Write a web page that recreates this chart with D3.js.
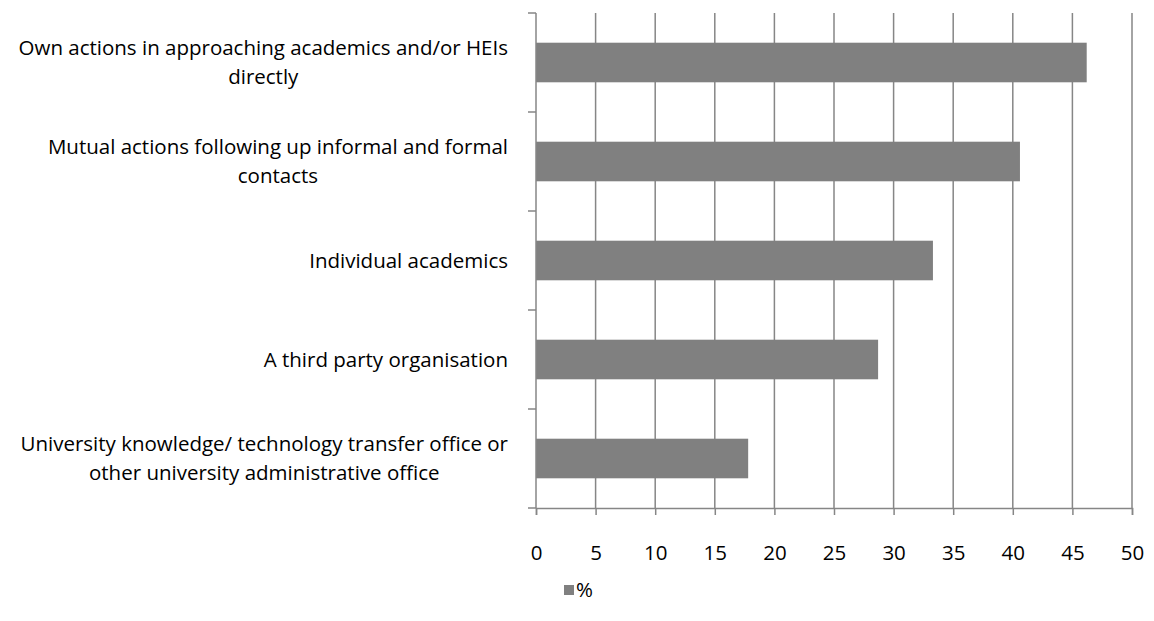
<!DOCTYPE html>
<html>
<head>
<meta charset="utf-8">
<script src="https://cdn.jsdelivr.net/npm/d3@7"></script>
<style>
  body { margin: 0; background: #fff; }
  svg { font-family: "Open Sans", sans-serif; }
</style>
</head>
<body>
<div class="container"></div>
<script>
// categories top to bottom, lines split where the chart wraps them
var categories = [
  "Own actions in approaching academics and/or HEIs\ndirectly",
  "Mutual actions following up informal and formal\ncontacts",
  "Individual academics",
  "A third party organisation",
  "University knowledge/ technology transfer office or\nother university administrative office"
];
var values = [46.2, 40.6, 33.3, 28.7, 17.8];
var xTicks = [0, 5, 10, 15, 20, 25, 30, 35, 40, 45, 50];
var seriesName = "%";

var width = 1154, height = 621;
var margin = {left: 536, right: 22, top: 13, bottom: 113};
var plotW = width - margin.left - margin.right;
var plotH = height - margin.top - margin.bottom;
var fontSize = "20.5px";

var svg = d3.select(".container").append("svg")
    .attr("width", width).attr("height", height);

var x = d3.scaleLinear().domain([0, 50]).range([0, plotW]);
var y = d3.scaleBand().domain(categories).range([0, plotH]).paddingInner(0.6).paddingOuter(0.3);

var chartGroup = svg.append("g").attr("transform", "translate(" + margin.left + "," + margin.top + ")");

// vertical gridlines
chartGroup.selectAll("line.grid")
    .data(xTicks.slice(1))
    .enter().append("line")
    .attr("class", "grid")
    .attr("x1", function(d) { return x(d); })
    .attr("x2", function(d) { return x(d); })
    .attr("y1", 0).attr("y2", plotH)
    .attr("stroke", "#868686").attr("stroke-width", 1.5);

// bars
chartGroup.selectAll("rect.bar")
    .data(values)
    .enter().append("rect")
    .attr("class", "bar")
    .attr("x", 0)
    .attr("y", function(d, i) { return y(categories[i]); })
    .attr("width", function(d) { return x(d); })
    .attr("height", y.bandwidth())
    .attr("fill", "#808080");

// x axis
var xAxis = d3.axisBottom(x).tickValues(xTicks).tickSize(7).tickPadding(30);
var xg = chartGroup.append("g")
    .attr("transform", "translate(0," + plotH + ")")
    .call(xAxis);
xg.select(".domain").attr("stroke", "#868686").attr("stroke-width", 1.5);
xg.selectAll(".tick line").attr("stroke", "#868686").attr("stroke-width", 1.5);
xg.selectAll("text").attr("font-size", fontSize).attr("font-family", "Open Sans").attr("fill", "#000");

// y axis: ticks sit on band boundaries
var step = plotH / categories.length;
var bounds = d3.range(categories.length + 1).map(function(i) { return i * step; });
chartGroup.append("line")
    .attr("x1", 0).attr("x2", 0).attr("y1", 0).attr("y2", plotH)
    .attr("stroke", "#868686").attr("stroke-width", 1.5);
chartGroup.selectAll("line.ytick")
    .data(bounds)
    .enter().append("line")
    .attr("class", "ytick")
    .attr("x1", -8).attr("x2", 0)
    .attr("y1", function(d) { return d; })
    .attr("y2", function(d) { return d; })
    .attr("stroke", "#868686").attr("stroke-width", 1.5);

// category labels, one text each; block right-aligned, lines centred in it
var labelRight = -28;
var lineH = 28.5;
categories.forEach(function(c, i) {
    var lines = c.split("\n");
    var cy = y(c) + y.bandwidth() / 2;
    var t = chartGroup.append("text")
        .attr("font-size", fontSize)
        .attr("text-anchor", "middle")
        .attr("fill", "#000");
    var spans = lines.map(function(l, j) {
        return t.append("tspan")
            .attr("y", cy + (j - (lines.length - 1) / 2) * lineH)
            .attr("dy", "0.35em")
            .text(l);
    });
    var w = d3.max(spans, function(s) { return s.node().getComputedTextLength(); });
    spans.forEach(function(s) { s.attr("x", labelRight - w / 2); });
});

// legend
var legend = svg.append("g").attr("transform", "translate(564,585)");
legend.append("rect").attr("width", 10).attr("height", 10).attr("fill", "#808080");
legend.append("text").attr("x", 12).attr("y", 5).attr("dy", "0.35em")
    .attr("font-size", fontSize).attr("fill", "#000").text(seriesName);
</script>
</body>
</html>
